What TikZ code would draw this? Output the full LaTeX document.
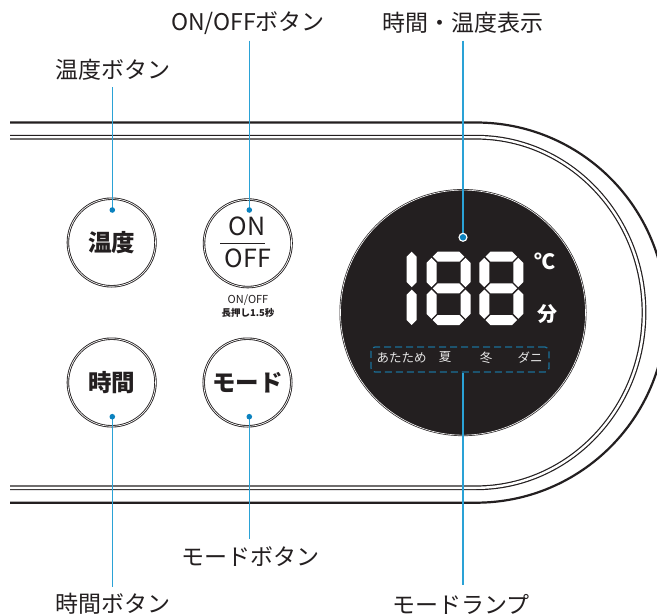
\documentclass[tikz,border=0pt]{standalone}
\usepackage{fontspec}
\setmainfont{Noto Sans CJK JP}
\definecolor{ink}{HTML}{231F20}
\definecolor{leadc}{HTML}{2AA2D6}
\definecolor{dotc}{HTML}{0B82BF}
\definecolor{lampc}{HTML}{1A6F98}
\definecolor{lampt}{HTML}{E6E6E6}
\newcommand\segT{10}
\newcommand\segG{1.2}
\newcommand\myhseg[3]{\fill[white] ({#1+\segG},{#3}) -- ({#1+\segG+\segT/2},{#3-\segT/2}) -- ({#2-\segG-\segT/2},{#3-\segT/2}) -- ({#2-\segG},{#3}) -- ({#2-\segG-\segT/2},{#3+\segT/2}) -- ({#1+\segG+\segT/2},{#3+\segT/2}) -- cycle;}
\newcommand\myvseg[3]{\fill[white] ({#1},{#2+\segG}) -- ({#1+\segT/2},{#2+\segG+\segT/2}) -- ({#1+\segT/2},{#3-\segG-\segT/2}) -- ({#1},{#3-\segG}) -- ({#1-\segT/2},{#3-\segG-\segT/2}) -- ({#1-\segT/2},{#2+\segG+\segT/2}) -- cycle;}
\newcommand\myeight[2]{%
 \myhseg{#1+5}{#1+39}{#2+5}
 \myhseg{#1+5}{#1+39}{#2+36.65}
 \myhseg{#1+5}{#1+39}{#2+68.3}
 \myvseg{#1+5}{#2+5}{#2+36.65}
 \myvseg{#1+5}{#2+36.65}{#2+68.3}
 \myvseg{#1+39}{#2+5}{#2+36.65}
 \myvseg{#1+39}{#2+36.65}{#2+68.3}}
\begin{document}
\begin{tikzpicture}[x=1pt,y=-1pt,
  lbl/.style={inner sep=0pt,text=ink,font=\fontsize{23}{26}\selectfont},
  leader/.style={draw=leadc,line width=1.1pt},
  btn/.style={circle,draw=ink,double=white,double distance=0.7pt,line width=0.85pt,minimum size=87.6pt,inner sep=0pt,font=\fontsize{23.5}{26}\selectfont\bfseries,text=ink},
  lamptxt/.style={inner sep=0pt,text=lampt,font=\fontsize{12.5}{14}\selectfont},
  bigtxt/.style={inner sep=0pt,text=ink,font=\fontsize{25}{28}\selectfont}]
\useasboundingbox (0,0) rectangle (657,616);
\fill[white] (0,0) rectangle (657,616);
\begin{scope}
\clip (0,0) rectangle (657,616);
\draw[ink,line width=2.2pt] (10,122.5) -- (476,122.5) arc[start angle=-90,end angle=90,x radius=190,y radius=190.1] -- (10,502.7);
\draw[ink,double=white,double distance=2.4pt,line width=1.2pt] (10,137.2) -- (476,137.2) arc[start angle=-90,end angle=90,x radius=168,y radius=175.3] -- (10,487.8);
\end{scope}
% buttons
\node[btn] (wb) at (111.7,242.5) {温度};
\node[btn] (ob) at (247.8,243.3) {};
\node[btn] (tb) at (111.7,382.5) {時間};
\node[btn] (mb) at (247.5,382.5) {モード};
\node[bigtxt] (on) at (247.3,226) {ON};
\node[bigtxt] (off) at (248,258.5) {OFF};
\draw[ink,line width=1pt] (220,243.3) -- (265,243.3);
\node[inner sep=0pt,text=ink,font=\fontsize{11}{12}\selectfont] (onh) at (248,300.5) {ON/OFF};
\node[inner sep=0pt,text=ink,font=\fontsize{9.5}{10}\selectfont\bfseries] (lp) at (248,312.5) {長押し1.5秒};
% display
\node[circle,fill=ink,draw=ink,double=white,double distance=0.6pt,line width=0.7pt,minimum size=245pt,inner sep=0pt] (disp) at (463,312.6) {};
\myeight{426.5}{251.7}
\myeight{479.3}{251.7}
\myvseg{411.7}{250.5}{288.35}
\myvseg{411.7}{288.35}{326.2}
\node[inner sep=0pt,text=white,font=\fontsize{21}{22}\selectfont\bfseries] (degc) at (545,261) {℃};
\node[inner sep=0pt,text=white,font=\fontsize{20}{22}\selectfont\bfseries] (fun) at (547.5,314) {分};
\node[draw=lampc,dash pattern=on 7pt off 4pt,line width=1.3pt,rounded corners=4pt,minimum width=178pt,minimum height=25pt,inner sep=0pt] (lampbox) at (460,359.5) {};
\node[lamptxt] (m1) at (401.7,357.5) {あたため};
\node[lamptxt] (m2) at (445,357.5) {夏};
\node[lamptxt] (m3) at (486,357.5) {冬};
\node[lamptxt] (m4) at (530,357.5) {ダニ};
% labels
\node[lbl] (l1) at (113,70) {温度ボタン};
\node[lbl] (l2) at (248,23) {ON/OFFボタン};
\node[lbl] (l3) at (463,23) {時間・温度表示};
\node[lbl] (l4) at (250,557) {モードボタン};
\node[lbl] (l5) at (113,604) {時間ボタン};
\node[lbl] (l6) at (461,604) {モードランプ};
% leader ends
\coordinate (t1) at (112.3,87.3);
\coordinate (d1) at (112.3,210);
\coordinate (t2) at (249.3,40.7);
\coordinate (d2) at (249.3,210);
\coordinate (t3) at (463,40.7);
\coordinate (d3) at (463,237.3);
\coordinate (d4) at (112.3,416.7);
\coordinate (b4) at (112.3,586.7);
\coordinate (d5) at (249.3,416.7);
\coordinate (b5) at (249.3,539.3);
\coordinate (b6) at (463,585);
\draw[leader] (t1) -- (d1);
\draw[leader] (t2) -- (d2);
\draw[leader] (t3) -- (d3);
\draw[leader] (d4) -- (b4);
\draw[leader] (d5) -- (b5);
\draw[leader] (b6 |- lampbox.south) -- (b6);
\fill[dotc] (d1) circle[radius=2.8];
\fill[dotc] (d2) circle[radius=2.8];
\fill[white] (d3) circle[radius=4.6];
\fill[dotc] (d3) circle[radius=3.2];
\fill[dotc] (d4) circle[radius=2.8];
\fill[dotc] (d5) circle[radius=2.8];
\end{tikzpicture}
\end{document}
